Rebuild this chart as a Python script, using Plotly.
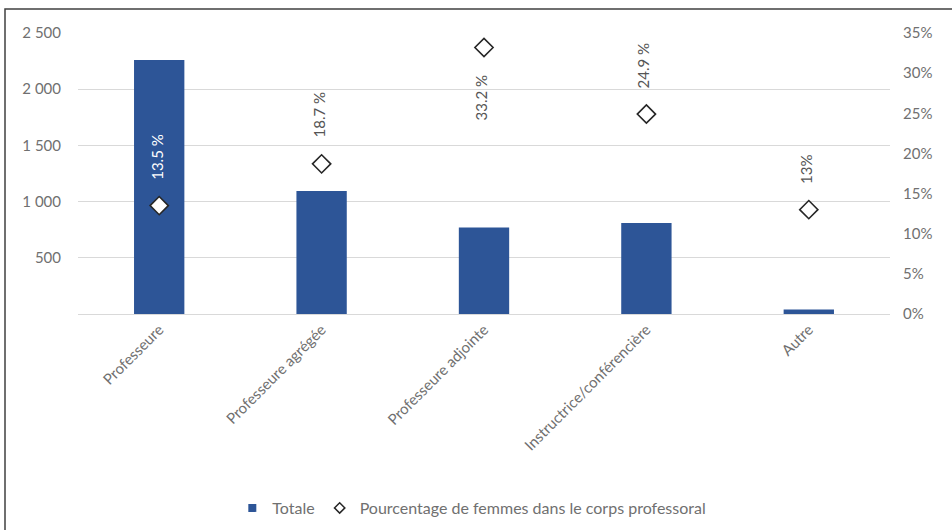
import plotly.graph_objects as go

categories = ["Professeure", "Professeure agrégée", "Professeure adjointe",
              "Instructrice/conférencière", "Autre"]
totals = [2260, 1095, 770, 810, 40]
pct_women = [13.5, 18.7, 33.2, 24.9, 13.0]
pct_labels = ["13.5 %", "18.7 %", "33.2 %", "24.9 %", "13%"]
label_side = ["above", "above", "below", "above", "above"]

left_ticks = [500, 1000, 1500, 2000, 2500]
left_ticktext = ["500", "1 000", "1 500", "2 000", "2 500"]
right_ticks = [0, 5, 10, 15, 20, 25, 30, 35]
right_ticktext = [f"{v}%" for v in right_ticks]

W, H = 952, 530
L, R, T, B = 78, 62, 33, 216
pw, ph = W - L - R, H - T - B

def px_x(px):
    return (px - L) / pw

def px_y(py):
    return (H - B - py) / ph

FONT = "Lato, 'Open Sans', sans-serif"
GREY = "#707070"
BLUE = "#2d5597"

fig = go.Figure()
fig.add_trace(go.Bar(
    x=categories, y=totals, name="Totale", showlegend=False,
    marker=dict(color=BLUE, line=dict(color=BLUE, width=0)),
    width=0.31, yaxis="y",
))
fig.add_trace(go.Scatter(
    x=categories, y=pct_women, showlegend=False,
    name="Pourcentage de femmes dans le corps professoral",
    mode="markers", yaxis="y2",
    marker=dict(symbol="diamond", size=14, color="white",
                line=dict(color="#262626", width=1.6)),
))
# legend entries (small symbols as in the reference)
fig.add_trace(go.Scatter(
    x=[None], y=[None], name="Totale", mode="markers",
    marker=dict(symbol="square", size=8, color=BLUE),
))
fig.add_trace(go.Scatter(
    x=[None], y=[None], name="Pourcentage de femmes dans le corps professoral",
    mode="markers", yaxis="y2",
    marker=dict(symbol="diamond", size=8, color="white",
                line=dict(color="#262626", width=1.5)),
))

for i, (c, v, lab, side) in enumerate(zip(categories, pct_women, pct_labels, label_side)):
    inside = totals[i] / 2500 * 35 > v + 6
    fig.add_annotation(
        x=c, y=v, xref="x", yref="y2", text=lab, showarrow=False,
        textangle=-90, xshift=-3,
        yanchor="bottom" if side == "above" else "top",
        yshift=24 if side == "above" else -25,
        font=dict(family=FONT, size=15,
                  color="white" if inside else "#555555"),
    )

fig.add_shape(type="rect", xref="paper", yref="paper",
              x0=px_x(5), x1=px_x(980), y0=px_y(560), y1=px_y(9),
              line=dict(color="#404040", width=1.5), fillcolor="rgba(0,0,0,0)",
              layer="below")

fig.update_layout(
    width=W, height=H,
    margin=dict(l=L, r=R, t=T, b=B, autoexpand=False),
    paper_bgcolor="white", plot_bgcolor="white",
    font=dict(family=FONT, size=15, color=GREY),
    bargap=0.69,
    xaxis=dict(tickangle=-45, tickfont=dict(size=15, color=GREY),
               showline=True, linecolor="#d9d9d9", linewidth=1,
               ticks="", showgrid=False),
    yaxis=dict(range=[0, 2500], tickvals=left_ticks, ticktext=left_ticktext,
               showgrid=True, gridcolor="#d9d9d9", gridwidth=1,
               zeroline=False, showline=False, ticks="",
               ticklabelstandoff=16,
               tickfont=dict(size=15, color=GREY)),
    yaxis2=dict(range=[0, 35], tickvals=right_ticks, ticktext=right_ticktext,
                overlaying="y", side="right", showgrid=False,
                zeroline=False, showline=False, ticks="",
                ticklabelstandoff=12,
                tickfont=dict(size=15, color=GREY)),
    legend=dict(orientation="h", x=0.485, xanchor="center",
                y=px_y(508), yanchor="middle",
                font=dict(size=16, color=GREY), itemwidth=30,
                traceorder="normal"),
    showlegend=True,
)

fig.write_html("out.html", config={"displayModeBar": False},
               post_script="document.body.style.margin='0';")
